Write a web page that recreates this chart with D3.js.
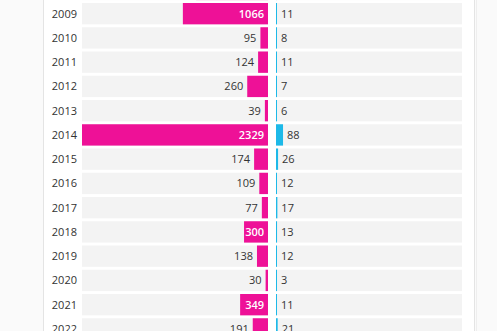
<!DOCTYPE html>
<html>
<head>
<meta charset="utf-8">
<script src="https://cdn.jsdelivr.net/npm/d3@7"></script>
<style>
  html, body { margin: 0; padding: 0; background: #fafafa; }
  svg { display: block; font-family: "Open Sans", sans-serif; }
</style>
</head>
<body>
<svg id="chart" width="497" height="331"></svg>
<script>
// data (2008 row is cut off at the top)
const years = ["2008", "2009", "2010", "2011", "2012", "2013", "2014", "2015",
               "2016", "2017", "2018", "2019", "2020", "2021", "2022"];
const leftValues = [900, 1066, 95, 124, 260, 39, 2329, 174, 109, 77, 300, 138, 30, 349, 191];
const rightValues = [10, 11, 8, 11, 7, 6, 88, 26, 12, 17, 13, 12, 3, 11, 21];

const pink = "#ee1197", blue = "#1db9e8", rowBg = "#f3f3f3", txt = "#333";

const svg = d3.select("#chart");

// card
svg.append("rect").attr("x", 43.5).attr("y", -2).attr("width", 431).attr("height", 340)
  .attr("fill", "#fff").attr("stroke", "#e4e4e4");
svg.append("line").attr("x1", 476.5).attr("x2", 476.5).attr("y1", 0).attr("y2", 331)
  .attr("stroke", "#eeeeee");

const step = 24.25;
const y = d3.scaleBand()
  .domain(years)
  .range([3 - step * 1.06, 3 - step * 1.06 + years.length * step])
  .paddingInner(0.12)
  .paddingOuter(0.06);

const xMax = d3.max(leftValues);
const leftEdge = 82, center = 268, rightStart = 276, half = 186;
const xl = d3.scaleLinear().domain([0, xMax]).range([center, center - half]);
const xr = d3.scaleLinear().domain([0, xMax]).range([rightStart, rightStart + half]);

const rows = svg.append("g").selectAll("g")
  .data(years.map((yr, i) => ({ yr, l: leftValues[i], r: rightValues[i] })))
  .join("g")
  .attr("transform", d => `translate(0,${y(d.yr)})`);

const bh = y.bandwidth();

rows.append("rect").attr("x", leftEdge).attr("width", center - leftEdge)
  .attr("height", bh).attr("fill", rowBg);
rows.append("rect").attr("x", rightStart).attr("width", half)
  .attr("height", bh).attr("fill", rowBg);

rows.append("rect")
  .attr("x", d => xl(d.l)).attr("width", d => center - xl(d.l))
  .attr("height", bh).attr("fill", pink);
rows.append("rect")
  .attr("x", rightStart).attr("width", d => Math.max(1, xr(d.r) - rightStart))
  .attr("height", bh).attr("fill", blue);

// labels only for rows whose band starts inside the picture
const labelled = rows.filter(d => y(d.yr) >= 0);

labelled.append("text")
  .attr("x", 77).attr("y", bh / 2).attr("dy", "0.35em")
  .attr("text-anchor", "end").attr("font-size", 11)
  .attr("fill", txt).text(d => d.yr);

labelled.append("text")
  .attr("y", bh / 2).attr("dy", "0.35em").attr("font-size", 11)
  .attr("text-anchor", "end")
  .each(function (d) {
    const w = center - xl(d.l);
    const inside = w > 22;
    d3.select(this)
      .attr("x", inside ? center - 4 : xl(d.l) - 4)
      .attr("fill", inside ? "#fff" : txt)
      .attr("font-weight", inside ? 600 : 400)
      .text(d.l);
  });

labelled.append("text")
  .attr("x", d => Math.max(rightStart + 1, xr(d.r)) + 4)
  .attr("y", bh / 2).attr("dy", "0.35em").attr("font-size", 11)
  .attr("fill", txt).text(d => d.r);
</script>
</body>
</html>
